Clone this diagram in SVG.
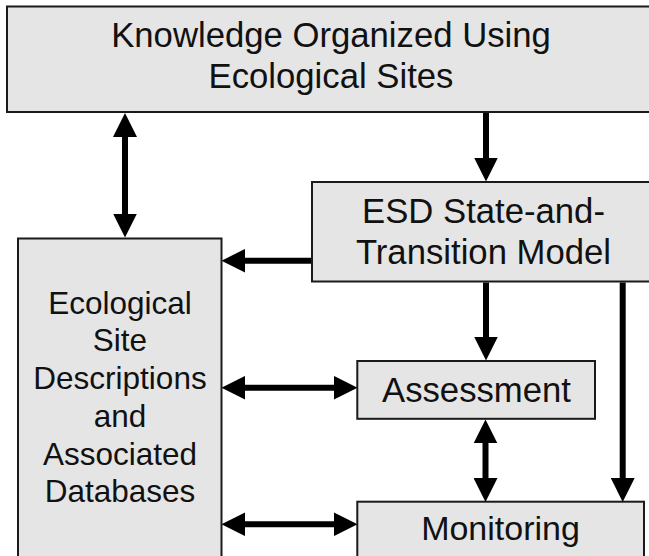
<svg xmlns="http://www.w3.org/2000/svg" width="649" height="556" viewBox="0 0 649 556">
<style>
.box{fill:#e5e5e5;stroke:#1a1a1a;stroke-width:2}
.t{font-family:"Liberation Sans",Arial,sans-serif;fill:#111;text-anchor:middle}
.big{font-size:34.7px}
.small{font-size:31.5px}
.c{stroke:#000;stroke-width:6;fill:none}
</style>
<defs>
<marker id="ah" markerUnits="userSpaceOnUse" markerWidth="24" markerHeight="24" viewBox="0 0 23 23" refX="11" refY="11.5" orient="auto-start-reverse">
<path d="M0,0 L23,11.5 L0,23 Z" fill="#000"/>
</marker>
</defs>
<rect width="649" height="556" fill="#fff"/>
<g id="knowledge">
<rect class="box" x="7" y="6.5" width="660" height="105.5"/>
<text class="t big" x="331" y="46.5">Knowledge Organized Using</text>
<text class="t big" x="331" y="87.5">Ecological Sites</text>
</g>
<g id="stm">
<rect class="box" x="312" y="182" width="360" height="99.5"/>
<text class="t big" x="483.5" y="222.5">ESD State-and-</text>
<text class="t big" x="483.5" y="264">Transition Model</text>
</g>
<g id="esd">
<rect class="box" x="18" y="238.5" width="203.5" height="330"/>
<text class="t small" x="120" y="313.5">Ecological</text>
<text class="t small" x="120" y="351.25">Site</text>
<text class="t small" x="120" y="389">Descriptions</text>
<text class="t small" x="120" y="426.75">and</text>
<text class="t small" x="120" y="464.5">Associated</text>
<text class="t small" x="120" y="502.25">Databases</text>
</g>
<g id="assessment">
<rect class="box" x="357.3" y="361" width="237.7" height="57.8"/>
<text class="t big" x="476.5" y="401.5">Assessment</text>
</g>
<g id="monitoring">
<rect class="box" x="357.3" y="501.7" width="286.7" height="70"/>
<text class="t" style="font-size:34px" x="500.5" y="540">Monitoring</text>
</g>
<g id="connectors">
<line class="c" x1="125" y1="125.5" x2="125" y2="225" marker-start="url(#ah)" marker-end="url(#ah)"/>
<line class="c" x1="486" y1="113" x2="486" y2="169" marker-end="url(#ah)"/>
<line class="c" x1="311" y1="260.7" x2="234" y2="260.7" marker-end="url(#ah)"/>
<line class="c" x1="486" y1="282.5" x2="486" y2="348" marker-end="url(#ah)"/>
<line class="c" x1="622.7" y1="282.5" x2="622.7" y2="489.5" marker-end="url(#ah)"/>
<line class="c" x1="234" y1="387.7" x2="345" y2="387.7" marker-start="url(#ah)" marker-end="url(#ah)"/>
<line class="c" x1="234" y1="524.3" x2="345" y2="524.3" marker-start="url(#ah)" marker-end="url(#ah)"/>
<line class="c" x1="485.5" y1="432" x2="485.5" y2="489.5" marker-start="url(#ah)" marker-end="url(#ah)"/>
</g>
</svg>
